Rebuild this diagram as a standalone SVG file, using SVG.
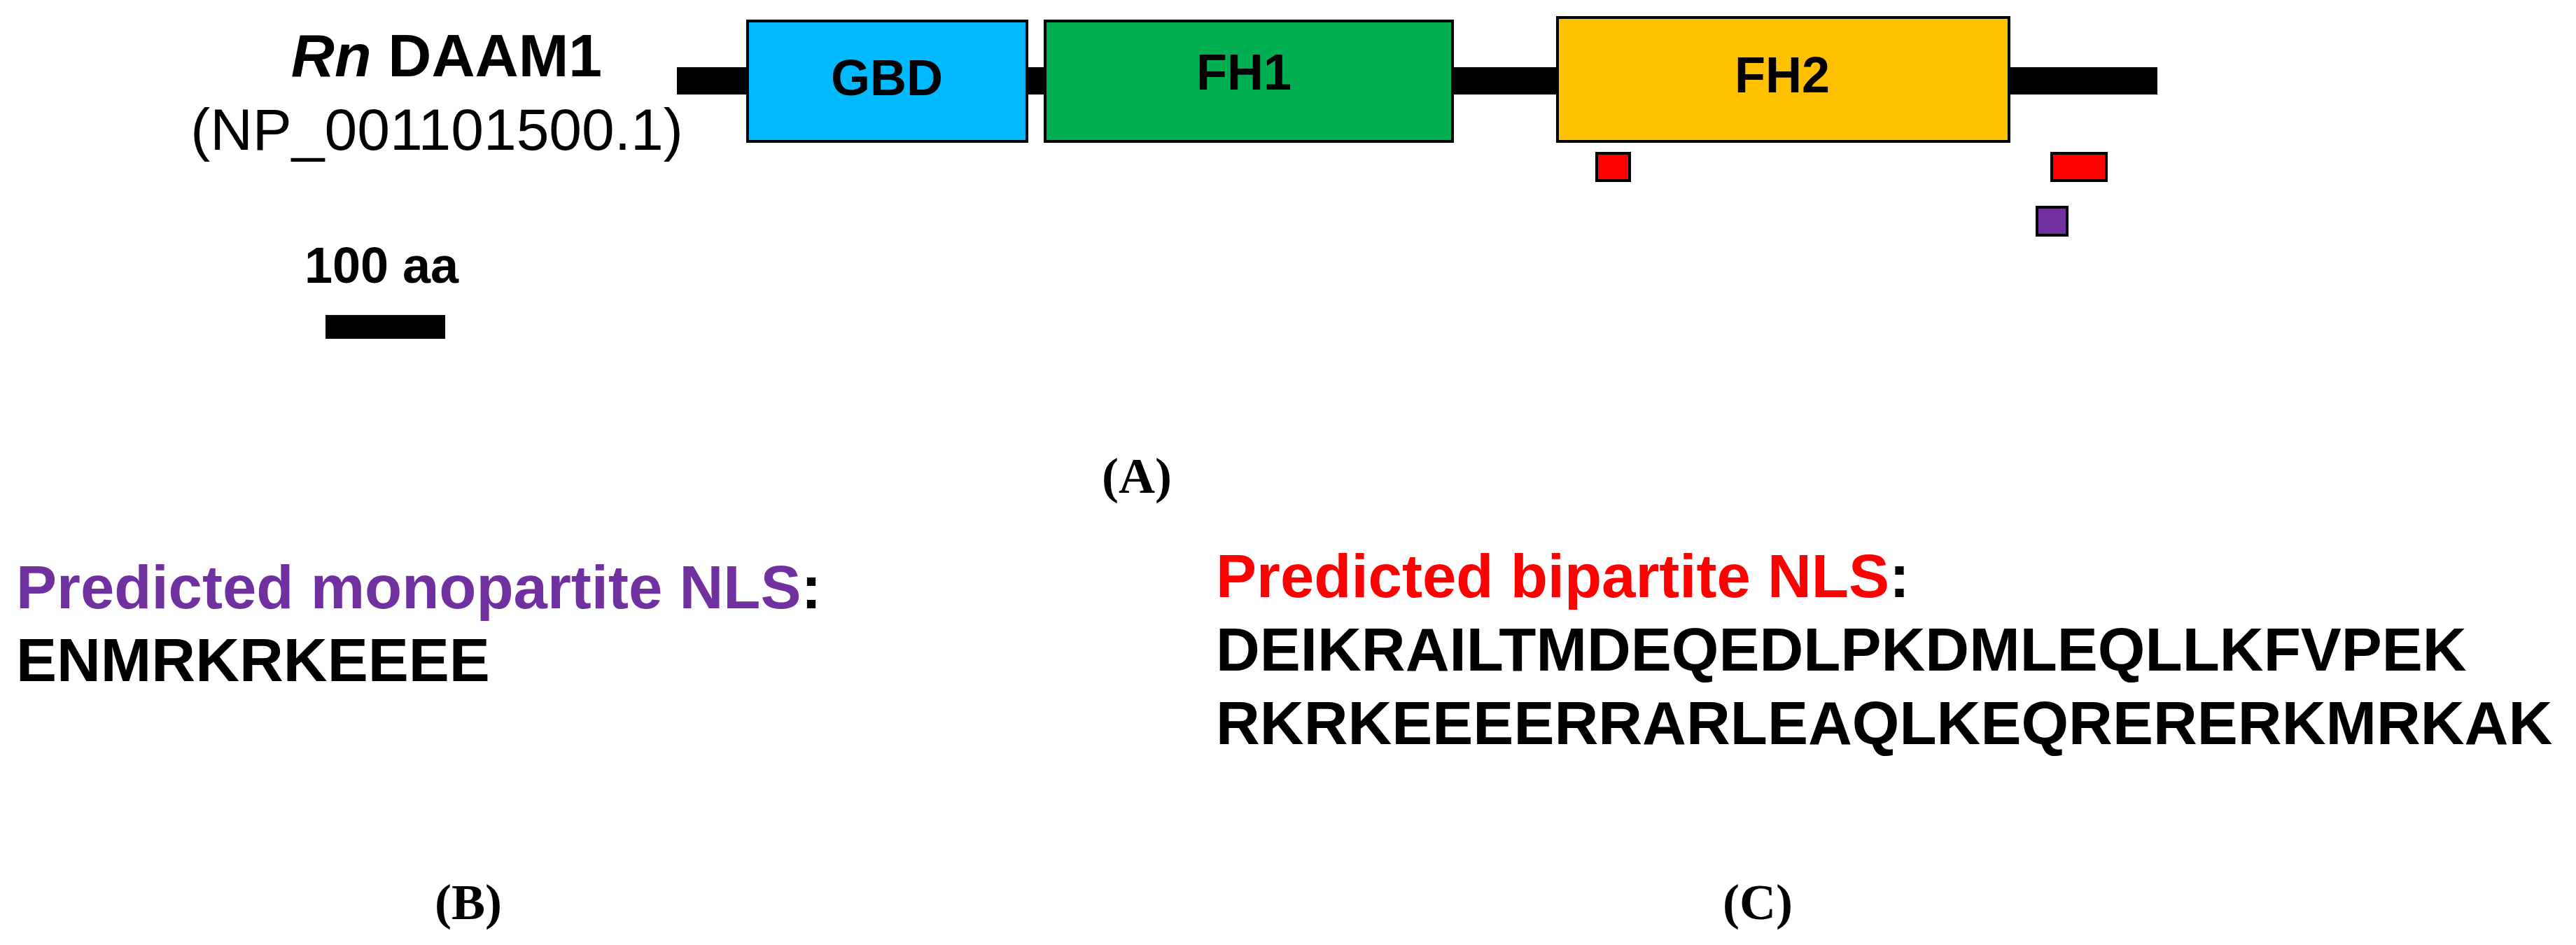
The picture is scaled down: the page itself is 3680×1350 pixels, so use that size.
<svg xmlns="http://www.w3.org/2000/svg" width="3680" height="1350" viewBox="0 0 3680 1350">
<style>
.s{font-family:"Liberation Sans",Arial,sans-serif;font-weight:bold}
.r{font-family:"Liberation Sans",Arial,sans-serif}
.t{font-family:"Liberation Serif","Times New Roman",serif;font-weight:bold;font-size:72px}
.box{stroke:#000;stroke-width:4}
</style>
<rect width="3680" height="1350" fill="#fff"/>
<g id="backbone"><rect x="967" y="96" width="2115" height="39" fill="#000"/></g>
<g id="gbd"><rect class="box" x="1068" y="30" width="399" height="172" fill="#00B9FF"/><text class="s" x="1267" y="136" font-size="72" text-anchor="middle">GBD</text></g>
<g id="fh1"><rect class="box" x="1493" y="30" width="582" height="172" fill="#00B050"/><text class="s" x="1777" y="128" font-size="72" text-anchor="middle">FH1</text></g>
<g id="fh2"><rect class="box" x="2225" y="25" width="645" height="177" fill="#FFC000"/><text class="s" x="2546" y="132" font-size="72" text-anchor="middle">FH2</text></g>
<g id="nls1"><rect class="box" x="2281" y="219" width="47" height="39" fill="#FF0000"/></g>
<g id="nls2"><rect class="box" x="2931" y="219" width="78" height="39" fill="#FF0000"/></g>
<g id="nls3"><rect class="box" x="2910" y="296" width="43" height="40" fill="#7030A0"/></g>
<g id="title"><text class="s" x="638" y="109" font-size="86" text-anchor="middle"><tspan font-style="italic">Rn</tspan> DAAM1</text>
<text class="r" x="624" y="214" font-size="84" text-anchor="middle">(NP_001101500.1)</text></g>
<g id="scale"><text class="s" x="545" y="404" font-size="72" text-anchor="middle">100 aa</text><rect x="465" y="450" width="171" height="34" fill="#000"/></g>
<text class="t" x="1624" y="704" text-anchor="middle">(A)</text>
<g id="mono"><text class="s" x="23" y="869" font-size="87"><tspan fill="#7030A0">Predicted monopartite NLS</tspan>:</text>
<text class="s" x="23" y="973" font-size="87">ENMRKRKEEEE</text></g>
<g id="bi"><text class="s" x="1737" y="853" font-size="87"><tspan fill="#FF0000">Predicted bipartite NLS</tspan>:</text>
<text class="s" x="1737" y="958" font-size="87">DEIKRAILTMDEQEDLPKDMLEQLLKFVPEK</text>
<text class="s" x="1737" y="1063" font-size="87">RKRKEEEERRARLEAQLKEQRERERKMRKAK</text></g>
<text class="t" x="669" y="1313" text-anchor="middle">(B)</text>
<text class="t" x="2511" y="1313" text-anchor="middle">(C)</text>
</svg>
